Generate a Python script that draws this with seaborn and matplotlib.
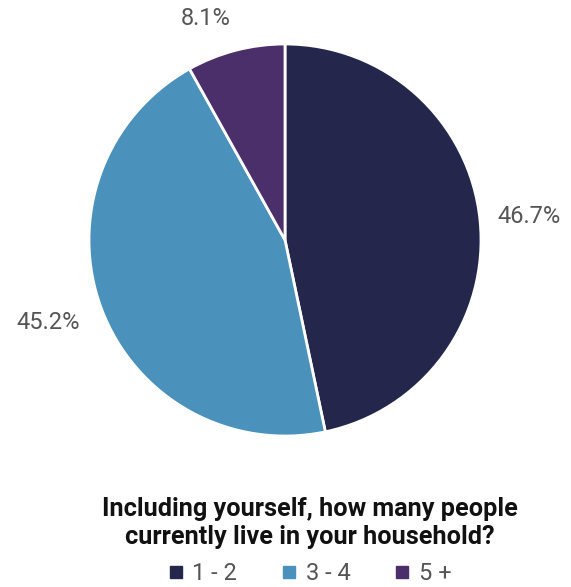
import numpy as np
import matplotlib
matplotlib.use("Agg")
import matplotlib.pyplot as plt
from matplotlib.lines import Line2D
import seaborn as sns

# Survey answers: household size
categories = ["1 - 2", "3 - 4", "5 +"]
shares = [46.7, 45.2, 8.1]
colors = ["#25264b", "#4a91bb", "#4b2f6b"]
title = "Including yourself, how many people\ncurrently live in your household?"

sns.set_theme(style="white")
plt.rcParams["font.family"] = ["Roboto", "DejaVu Sans"]

fig = plt.figure(figsize=(5.71, 5.87), dpi=100)
ax = fig.add_axes([89 / 571, 151 / 587, 392 / 571, 392 / 587])

palette = sns.color_palette(colors)
wedges, _ = ax.pie(
    shares,
    colors=palette,
    startangle=90,
    counterclock=False,
    wedgeprops=dict(edgecolor="white", linewidth=2),
    radius=1.0,
)
ax.set_xlim(-1, 1)
ax.set_ylim(-1, 1)
ax.set_aspect("equal")

# percentage labels outside the wedges, nudged to avoid crowding
label_dist = [1.25, 1.29, 1.17]
label_nudge = [(0.0, -0.01), (0.0, 0.03), (-0.11, 0.0)]
for w, v, d, (nx, ny) in zip(wedges, shares, label_dist, label_nudge):
    ang = np.deg2rad((w.theta1 + w.theta2) / 2)
    ax.text(d * np.cos(ang) + nx, d * np.sin(ang) + ny, f"{v:.1f}%",
            ha="center", va="center", fontsize=17, color="#555555",
            clip_on=False)

fig.text(310 / 571, 1 - 523 / 587, title, ha="center", va="center",
         fontsize=18.2, fontweight="semibold", color="#111111",
         linespacing=1.2)

handles = [Line2D([0], [0], marker="s", linestyle="none", markersize=8,
                  markerfacecolor=c, markeredgecolor=c) for c in colors]
fig.legend(handles, categories, loc="center", ncol=3,
           bbox_to_anchor=(309 / 571, 1 - 574 / 587), frameon=False,
           fontsize=17, labelcolor="#555555", handlelength=0.8,
           handletextpad=0.3, columnspacing=1.8, borderpad=0)

fig.savefig("out.png", dpi=100)
